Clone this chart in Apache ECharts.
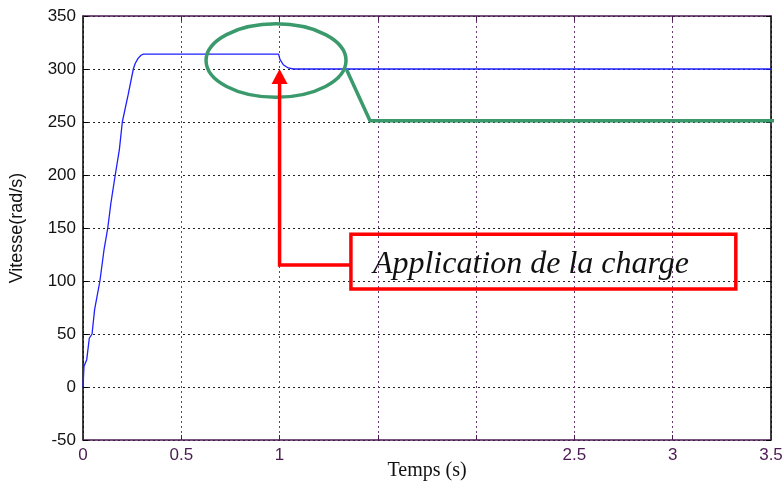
<!DOCTYPE html>
<html>
<head>
<meta charset="utf-8">
<script src="https://cdn.jsdelivr.net/npm/echarts@6/dist/echarts.min.js"></script>
<style>
  html, body { margin: 0; padding: 0; background: #fff; }
  #chart { width: 784px; height: 489px; }
</style>
</head>
<body>
<div id="chart"></div>
<script>
// Rotor speed response (rad/s) against time (s)
const timeS = [0, 0.005, 0.019, 0.032, 0.046, 0.059, 0.086, 0.107, 0.126, 0.142, 0.164, 0.185,
  0.2, 0.23, 0.256, 0.265, 0.28, 0.295, 0.307, 0.995, 1.002, 1.019, 1.044, 1.07, 3.5];
const speed = [0, 19.5, 25.8, 46, 50, 73, 100, 129.5, 150, 173.6, 200, 224,
  250, 276, 300, 305, 310, 313, 314, 314, 309, 304, 301, 300, 300];

// Callout leader leaving the highlighted region
const leaderT = [1.341, 1.46, 3.566];
const leaderV = [299.3, 251.2, 251.2];

// Axis ticks
const xTicks = [0, 0.5, 1, 1.5, 2, 2.5, 3, 3.5];
const xTickHidden = [1.5, 2];
const yTicks = [-50, 0, 50, 100, 150, 200, 250, 300, 350];

// Annotation anchors in data units
const ellipseCenter = [0.982, 308];
const ellipseRadius = [0.356, 34.6];
const arrowTip = [1, 300];
const arrowCorner = [1, 115];
const boxTopLeft = [1.363, 144.2];
const boxBottomRight = [3.321, 92.5];
const loadText = 'Application de la charge';

const purple = '#4b1a52';
const chart = echarts.init(document.getElementById('chart'));

const xAxisBase = {
  type: 'value', min: xTicks[0], max: xTicks[xTicks.length - 1], interval: 0.5
};
const yAxisBase = {
  type: 'value', min: yTicks[0], max: yTicks[yTicks.length - 1], interval: 50
};

chart.setOption({
  animation: false,
  backgroundColor: '#fff',
  grid: { left: 83, right: 13, top: 16, bottom: 49, containLabel: false, outerBoundsMode: 'none' },
  xAxis: [
    Object.assign({}, xAxisBase, {
      position: 'bottom',
      name: 'Temps (s)',
      nameLocation: 'middle',
      nameGap: 21,
      nameMoveOverlap: false,
      nameTextStyle: { fontFamily: 'Liberation Serif', fontSize: 20, color: '#111' },
      axisLine: { show: true, onZero: false, lineStyle: { color: purple, width: 1.5 } },
      axisTick: { show: true, inside: true, length: 5, lineStyle: { color: purple } },
      axisLabel: {
        margin: 7, color: purple, fontFamily: 'Liberation Sans', fontSize: 17,
        formatter: v => xTickHidden.includes(v) ? '' : String(v)
      },
      splitLine: { show: true, lineStyle: { color: '#6a3a74', type: [2, 3], width: 1 } }
    }),
    Object.assign({}, xAxisBase, {
      position: 'top',
      axisLine: { show: true, onZero: false, lineStyle: { color: purple, width: 1.5 } },
      axisTick: { show: true, inside: true, length: 5, lineStyle: { color: purple } },
      axisLabel: { show: false },
      splitLine: { show: false }
    })
  ],
  yAxis: [
    Object.assign({}, yAxisBase, {
      position: 'left',
      name: 'Vitesse(rad/s)',
      nameLocation: 'middle',
      nameGap: 57,
      nameMoveOverlap: false,
      nameTextStyle: { fontFamily: 'Liberation Sans', fontSize: 18, color: '#111' },
      axisLine: { show: true, onZero: false, lineStyle: { color: '#000', width: 1.5 } },
      axisTick: { show: true, inside: true, length: 5, lineStyle: { color: '#000' } },
      axisLabel: { margin: 7, color: '#111', fontFamily: 'Liberation Sans', fontSize: 17 },
      splitLine: { show: true, lineStyle: { color: '#222', type: [2, 3], width: 1 } }
    }),
    Object.assign({}, yAxisBase, {
      position: 'right',
      axisLine: { show: true, onZero: false, lineStyle: { color: '#000', width: 1.5 } },
      axisTick: { show: true, inside: true, length: 5, lineStyle: { color: '#000' } },
      axisLabel: { show: false },
      splitLine: { show: false }
    })
  ],
  series: [
    {
      type: 'line',
      data: timeS.map((t, i) => [t, speed[i]]),
      showSymbol: false,
      lineStyle: { color: '#1f1fff', width: 1.3 },
      z: 3
    },
    {
      type: 'line',
      data: leaderT.map((t, i) => [t, leaderV[i]]),
      showSymbol: false,
      clip: false,
      lineStyle: { color: '#3a9a6c', width: 3.5 },
      z: 4
    }
  ]
});

// Annotations placed through the axis scales
const px = p => chart.convertToPixel({ xAxisIndex: 0, yAxisIndex: 0 }, p);
const c = px(ellipseCenter);
const edge = px([ellipseCenter[0] + ellipseRadius[0], ellipseCenter[1] + ellipseRadius[1]]);
const tip = px(arrowTip);
const corner = px(arrowCorner);
const b0 = px(boxTopLeft);
const b1 = px(boxBottomRight);
const headH = 15, headW = 8;

chart.setOption({
  graphic: [
    {
      type: 'ellipse', z: 100,
      shape: { cx: c[0], cy: c[1], rx: edge[0] - c[0], ry: c[1] - edge[1] },
      style: { fill: 'none', stroke: '#3a9a6c', lineWidth: 3.5 }
    },
    {
      type: 'polyline', z: 100,
      shape: { points: [[tip[0], tip[1] + headH - 1], [corner[0], corner[1]], [b0[0], corner[1]]] },
      style: { fill: 'none', stroke: '#ff0000', lineWidth: 3.5 }
    },
    {
      type: 'polygon', z: 100,
      shape: { points: [[tip[0], tip[1]], [tip[0] - headW, tip[1] + headH], [tip[0] + headW, tip[1] + headH]] },
      style: { fill: '#ff0000', stroke: 'none' }
    },
    {
      type: 'rect', z: 100,
      shape: { x: b0[0], y: b0[1], width: b1[0] - b0[0], height: b1[1] - b0[1] },
      style: { fill: 'none', stroke: '#ff0000', lineWidth: 3.5 }
    },
    {
      type: 'text', z: 101,
      x: b0[0] + 22, y: (b0[1] + b1[1]) / 2 + 3,
      style: {
        text: loadText, fill: '#111',
        font: 'italic 32px "Liberation Serif"',
        verticalAlign: 'middle', align: 'left'
      }
    }
  ]
});
</script>
</body>
</html>
